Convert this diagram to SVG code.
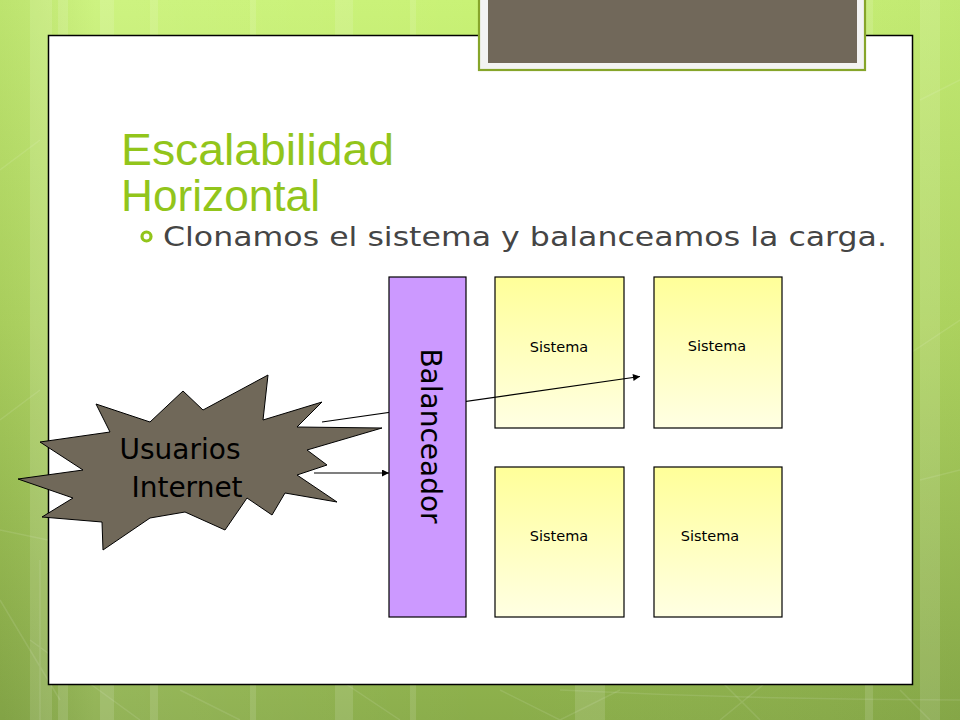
<svg xmlns="http://www.w3.org/2000/svg" width="960" height="720" viewBox="0 0 960 720">
  <defs>
    <linearGradient id="bg" x1="0" y1="0" x2="0" y2="1">
      <stop offset="0" stop-color="#c9f276"/>
      <stop offset="0.45" stop-color="#b3da62"/>
      <stop offset="1" stop-color="#8aad4a"/>
    </linearGradient>
    <linearGradient id="bgSide" x1="0" y1="0" x2="1" y2="0">
      <stop offset="0" stop-color="#000" stop-opacity="0.06"/>
      <stop offset="0.1" stop-color="#fff" stop-opacity="0.08"/>
      <stop offset="0.5" stop-color="#fff" stop-opacity="0"/>
      <stop offset="1" stop-color="#000" stop-opacity="0.04"/>
    </linearGradient>
    <linearGradient id="sysFill" x1="0" y1="0" x2="0" y2="1">
      <stop offset="0" stop-color="#ffff99"/>
      <stop offset="1" stop-color="#ffffe3"/>
    </linearGradient>
    <marker id="arrow" viewBox="0 0 10 10" refX="10" refY="5" markerWidth="9" markerHeight="7" markerUnits="userSpaceOnUse" orient="auto">
      <path d="M0,0 L10,5 L0,10 z" fill="#000"/>
    </marker>
    <style>
      .stripe { fill: #ffffff; opacity: 0.12; }
      .deco { fill: none; stroke: #ffffff; stroke-opacity: 0.1; stroke-width: 1.5; }
      .sys { fill: url(#sysFill); stroke: #000; stroke-width: 1.2; }
      .sysText { font-family: "DejaVu Sans", Verdana, sans-serif; font-size: 14.5px; fill: #000; text-anchor: middle; }
      .title { font-family: "Liberation Sans", Arial, sans-serif; font-size: 45px; fill: #92c51b; }
      .bulletText { font-family: "DejaVu Sans", Verdana, sans-serif; font-size: 27px; fill: #454545; }
      .conn { stroke: #000; stroke-width: 1.2; fill: none; marker-end: url(#arrow); }
      .big { font-family: "DejaVu Sans", Verdana, sans-serif; font-size: 28px; fill: #000; text-anchor: middle; }
    </style>
  </defs>

  <g id="background">
    <rect x="0" y="0" width="960" height="720" fill="url(#bg)"/>
    <rect x="0" y="0" width="960" height="720" fill="url(#bgSide)"/>
    <rect class="stripe" x="30" y="0" width="22" height="720"/>
    <rect class="stripe" x="58" y="0" width="10" height="720"/>
    <rect class="stripe" x="100" y="0" width="14" height="720"/>
    <rect class="stripe" x="150" y="0" width="8" height="720"/>
    <rect class="stripe" x="250" y="0" width="6" height="720"/>
    <rect class="stripe" x="335" y="0" width="18" height="720"/>
    <rect class="stripe" x="410" y="0" width="6" height="720"/>
    <rect class="stripe" x="575" y="0" width="30" height="720"/>
    <rect class="stripe" x="865" y="0" width="8" height="720"/>
    <rect class="stripe" x="920" y="0" width="20" height="720"/>
    <path class="deco" d="M0,600 L60,700 M30,640 L140,720 M180,690 L240,720 M280,640 L400,720 M500,690 L560,720 M620,690 L560,720 M680,640 L760,720 M830,630 L720,720 M900,690 L930,720 M920,100 L960,80 M900,360 L960,320 M920,480 L960,470 M0,170 L40,140 M0,420 L40,390 M0,530 L48,540 M40,720 L40,560"/>
    <path class="deco" d="M560,690 Q760,700 960,700"/>
  </g>

  <g id="slide-panel">
    <rect x="48.5" y="35.5" width="864" height="649" fill="#ffffff" stroke="#000" stroke-width="1.5"/>
  </g>

  <g id="header-box">
    <rect x="479" y="-2" width="386" height="72" fill="#f3f3f3" stroke="#86a52a" stroke-width="2.2"/>
    <rect x="488" y="0" width="369" height="63" fill="#71685a"/>
  </g>

  <g id="title">
    <text class="title" x="121" y="165" textLength="273" lengthAdjust="spacingAndGlyphs">Escalabilidad</text>
    <text class="title" x="121" y="211" textLength="199" lengthAdjust="spacingAndGlyphs">Horizontal</text>
  </g>

  <g id="bullet">
    <circle cx="146.5" cy="236.5" r="4.5" fill="none" stroke="#92c51b" stroke-width="3.2"/>
    <text class="bulletText" x="163" y="246" textLength="724" lengthAdjust="spacingAndGlyphs">Clonamos el sistema y balanceamos la carga.</text>
  </g>

  <g id="sistema-1">
    <rect class="sys" x="495" y="277" width="129" height="151"/>
    <text class="sysText" x="559" y="352">Sistema</text>
  </g>
  <g id="sistema-2">
    <rect class="sys" x="654" y="277" width="128" height="151"/>
    <text class="sysText" x="717" y="351">Sistema</text>
  </g>
  <g id="sistema-3">
    <rect class="sys" x="495" y="467" width="129" height="150"/>
    <text class="sysText" x="559" y="541">Sistema</text>
  </g>
  <g id="sistema-4">
    <rect class="sys" x="654" y="467" width="128" height="150"/>
    <text class="sysText" x="710" y="541">Sistema</text>
  </g>

  <g id="connectors">
    <line class="conn" x1="322" y1="422" x2="640" y2="376.5"/>
    <line class="conn" x1="314" y1="473" x2="389" y2="473"/>
  </g>

  <g id="balanceador">
    <rect x="389" y="277" width="77" height="340" fill="#cc99ff" stroke="#000" stroke-width="1.2"/>
    <text class="big" transform="translate(431,436) rotate(90)" x="0" y="10">Balanceador</text>
  </g>

  <g id="usuarios-internet">
    <polygon points="96,404 150,422 183,391 203,410 268,375 263,420 322,402 297,427 382,428 307,450 327,465 297,475 337,502 285,493 272,515 247,498 225,530 185,512 150,518 103,550 102,522 42,517 73,498 18,479 83,470 40,442 110,432" fill="#706859" stroke="#000" stroke-width="1"/>
    <text class="big" font-size="27" x="180" y="459">Usuarios</text>
    <text class="big" font-size="27" x="187" y="497">Internet</text>
  </g>
</svg>
